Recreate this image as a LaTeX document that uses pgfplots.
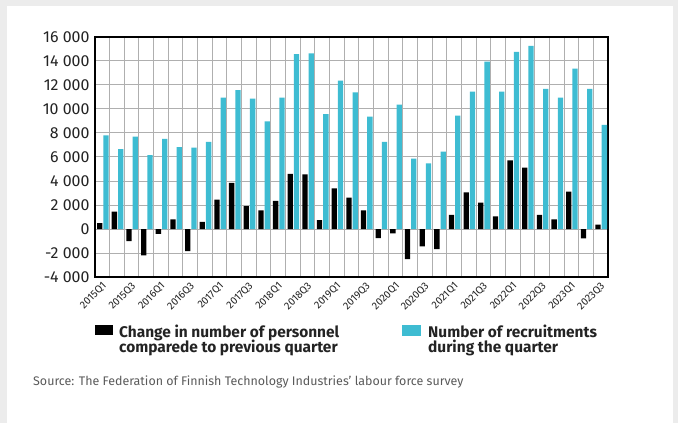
\documentclass[border=0pt]{standalone}
\usepackage{pgfplots}
\pgfplotsset{compat=1.18}
\usepackage{fontspec}
\setmainfont{Fira Sans}
\definecolor{bggray}{RGB}{236,236,236}
\definecolor{barcyan}{RGB}{62,188,210}
\definecolor{gridgray}{RGB}{175,175,175}
\definecolor{srcgray}{RGB}{90,90,90}
\definecolor{legtext}{RGB}{35,35,35}

% change in personnel vs previous quarter
\pgfplotstableread{
x y
0 500
1 1450
2 -1000
3 -2200
4 -400
5 800
6 -1850
7 600
8 2450
9 3850
10 1900
11 1550
12 2350
13 4600
14 4550
15 750
16 3390
17 2610
18 1560
19 -750
20 -360
21 -2500
22 -1440
23 -1670
24 1170
25 3060
26 2190
27 1060
28 5720
29 5110
30 1170
31 810
32 3110
33 -780
34 360
}\changetab

% recruitments during the quarter
\pgfplotstableread{
x y
0 7800
1 6650
2 7700
3 6150
4 7500
5 6830
6 6780
7 7250
8 10950
9 11580
10 10860
11 8970
12 10950
13 14580
14 14640
15 9580
16 12360
17 11390
18 9360
19 7250
20 10360
21 5860
22 5470
23 6440
24 9440
25 11440
26 13940
27 11440
28 14750
29 15250
30 11670
31 10940
32 13360
33 11670
34 8670
}\recruittab

\begin{document}
\begin{tikzpicture}[x=1bp,y=1bp]
\fill[bggray] (0,0) rectangle (678,423);
\fill[white] (7,0) rectangle (673,417);
\useasboundingbox (0,0) rectangle (678,423);
\begin{axis}[
  at={(95bp,146bp)}, anchor=south west,
  width=513bp, height=240bp, scale only axis,
  xmin=-0.5, xmax=34.5, ymin=-4000, ymax=16000,
  ytick={-4000,-2000,...,16000},
  scaled y ticks=false,
  xtick={0,2,...,34},
  xticklabels={2015Q1,2015Q3,2016Q1,2016Q3,2017Q1,2017Q3,2018Q1,2018Q3,2019Q1,2019Q3,2020Q1,2020Q3,2021Q1,2021Q3,2022Q1,2022Q3,2023Q1,2023Q3},
  minor xtick={0.5,1.5,...,33.5},
  ymajorgrids, xminorgrids,
  major grid style={gridgray, line width=1bp},
  minor grid style={gridgray, line width=1bp},
  major tick length=0, minor tick length=0,
  axis line style={black, line width=1.2bp},
  /pgf/number format/assume math mode=true,
  /pgf/number format/fixed,
  /pgf/number format/1000 sep={\ },
  yticklabel style={font=\fontsize{16}{18}\selectfont, text=legtext, xshift=-2bp},
  xticklabel style={font=\fontsize{10.5}{12}\selectfont, text=legtext, rotate=45, anchor=north east, inner sep=0.5bp, xshift=-3bp, yshift=-2bp},
]
\addplot[ybar, bar width=5.3bp, bar shift=-2.6bp, fill=black, draw=none] table[x=x, y=y] {\changetab};
\addplot[ybar, bar width=5.3bp, bar shift=3.7bp, fill=barcyan, draw=none] table[x=x, y=y] {\recruittab};
\end{axis}

% legend
\fill[black] (95,88) rectangle (113,98);
\node[anchor=base west, inner sep=0, text=legtext, font=\bfseries\fontsize{15.5}{17}\selectfont] at (119,86) {Change in number of personnel};
\node[anchor=base west, inner sep=0, text=legtext, font=\bfseries\fontsize{15.5}{17}\selectfont] at (119,71) {comparede to previous quarter};
\fill[barcyan] (402,87) rectangle (421,98);
\node[anchor=base west, inner sep=0, text=legtext, font=\bfseries\fontsize{15.5}{17}\selectfont] at (428,86) {Number of recruitments};
\node[anchor=base west, inner sep=0, text=legtext, font=\bfseries\fontsize{15.5}{17}\selectfont] at (428,71) {during the quarter};

% source
\node[anchor=base west, inner sep=0, text=srcgray, font=\fontsize{12.5}{14}\selectfont] at (33,38) {Source: The Federation of Finnish Technology Industries’ labour force survey};
\end{tikzpicture}
\end{document}
